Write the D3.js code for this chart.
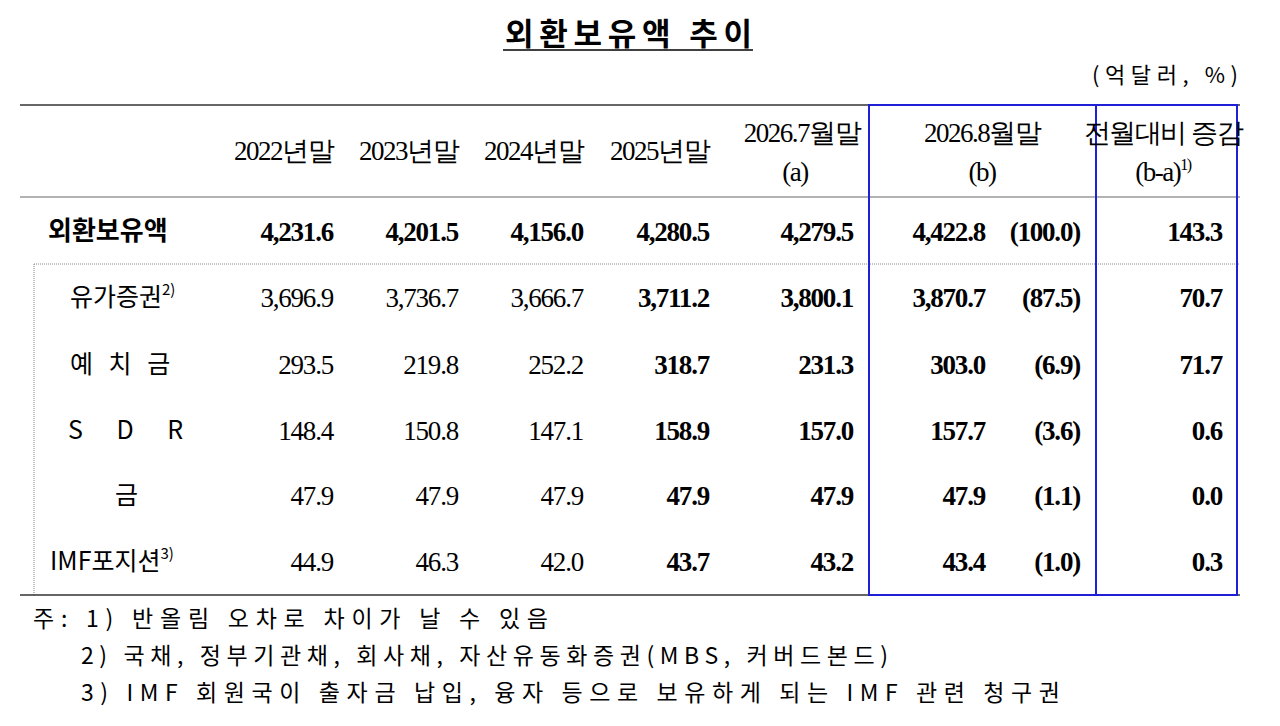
<!DOCTYPE html><html><head><meta charset="utf-8"><script src="https://cdn.jsdelivr.net/npm/d3@7"></script>
<style>body{margin:0;background:#fff}</style></head><body><svg id="c" width="1280" height="726"></svg>
<script>
const rowLabels=["외환보유액","유가증권","예 치 금","S  D  R","금","IMF포지션"];
const rowSups=["","2)","","","","3)"];
const colHeaders=[["2022년말"],["2023년말"],["2024년말"],["2025년말"],["2026.7월말","(a)"],["2026.8월말","(b)"],["전월대비 증감","(b-a)"]];
const v2022=["4,231.6","3,696.9","293.5","148.4","47.9","44.9"];
const v2023=["4,201.5","3,736.7","219.8","150.8","47.9","46.3"];
const v2024=["4,156.0","3,666.7","252.2","147.1","47.9","42.0"];
const v2025=["4,280.5","3,711.2","318.7","158.9","47.9","43.7"];
const v2026Jul=["4,279.5","3,800.1","231.3","157.0","47.9","43.2"];
const v2026Aug=["4,422.8","3,870.7","303.0","157.7","47.9","43.4"];
const shares=["(100.0)","(87.5)","(6.9)","(3.6)","(1.1)","(1.0)"];
const diffs=["143.3","70.7","71.7","0.6","0.0","0.3"];
const notes=["주: 1) 반올림 오차로 차이가 날 수 있음","2) 국채, 정부기관채, 회사채, 자산유동화증권(MBS, 커버드본드)","3) IMF 회원국이 출자금 납입, 융자 등으로 보유하게 되는 IMF 관련 청구권"];
const svg=d3.select("#c");
const serif="'Liberation Serif','DejaVu Serif',serif", kr="'Noto Sans CJK KR',sans-serif";
const y=d3.scaleOrdinal().domain(d3.range(6)).range([231,297,364,430,495,561]);
svg.append("text").attr("x",505).attr("y",45).attr("font-family",kr).attr("font-weight","bold").attr("font-size",31).attr("textLength",247).attr("lengthAdjust","spacing").text("외환보유액 추이");
svg.append("line").attr("x1",503).attr("x2",753).attr("y1",50).attr("y2",50).attr("stroke","#000").attr("stroke-width",1.5);
svg.append("text").attr("x",1092).attr("y",83).attr("font-family",kr).attr("font-size",22).attr("textLength",146).attr("lengthAdjust","spacing").text("(억달러,  %)");
const L=(x1,y1,x2,y2,s,w,da)=>svg.append("line").attr("x1",x1).attr("y1",y1).attr("x2",x2).attr("y2",y2).attr("stroke",s).attr("stroke-width",w).attr("stroke-dasharray",da||null);
L(20,105,1240,105,"#333",1.5);L(20,197,1240,197,"#666",1);
L(34,264,1240,264,"#888",1,"1,1");L(34,264,34,595,"#888",1,"1,1");
L(20,595,1240,595,"#333",1.5);
svg.append("rect").attr("x",869).attr("y",105).attr("width",368).attr("height",490).attr("fill","none").attr("stroke","#1f1fd8").attr("stroke-width",2);
L(1096,105,1096,595,"#1f1fd8",2);
const hx=[333,458,583,709,795,982,1163];
colHeaders.forEach((h,i)=>{
  h.forEach((t,j)=>{
    let xx=hx[i],anc="end";
    if(i>=5){anc="middle";}
    if(i==4){anc=j==0?"end":"middle";xx=j==0?860:795;}
    const yy=h.length==1?160:(j==0?142:181);
    const te=svg.append("text").attr("x",xx).attr("y",yy).attr("text-anchor",anc).attr("font-family",serif).attr("font-size",27).attr("letter-spacing",-1.5).text(t);
    if(i==6&&j==1){te.append("tspan").attr("dy",-11).attr("font-size",16).text("1)");}
  });
});
const xLabels=[48,70,70,68,115,50];
rowLabels.forEach((l,i)=>{
  const t=svg.append("text").attr("x",xLabels[i]).attr("y",y(i)+9).attr("font-family",kr).attr("font-size",i==0?26:25).attr("font-weight",i==0?"bold":null).attr("letter-spacing",i==2?5:(i==3?14:0)).text(l);
  if(rowSups[i]) t.append("tspan").attr("dy",-11).attr("font-size",15).attr("letter-spacing",0).text(rowSups[i]);
});
const cols=[[v2022,333,false],[v2023,458,false],[v2024,583,false],[v2025,709,true],[v2026Jul,853,true],[v2026Aug,985,true],[shares,1080,true],[diffs,1222,true]];
cols.forEach(([arr,x,b])=>arr.forEach((v,i)=>{
  svg.append("text").attr("x",x).attr("y",y(i)+10).attr("text-anchor","end").attr("font-family",serif).attr("font-size",27).attr("letter-spacing",-1.2).attr("font-weight",(b||i==0)?"bold":null).text(v);
}));
const nl=[[33,627,515],[81,664,807],[81,701,979]];
notes.forEach((n,i)=>svg.append("text").attr("x",nl[i][0]).attr("y",nl[i][1]).attr("font-family",kr).attr("font-size",23).attr("textLength",nl[i][2]).attr("lengthAdjust","spacing").text(n));
</script></body></html>
